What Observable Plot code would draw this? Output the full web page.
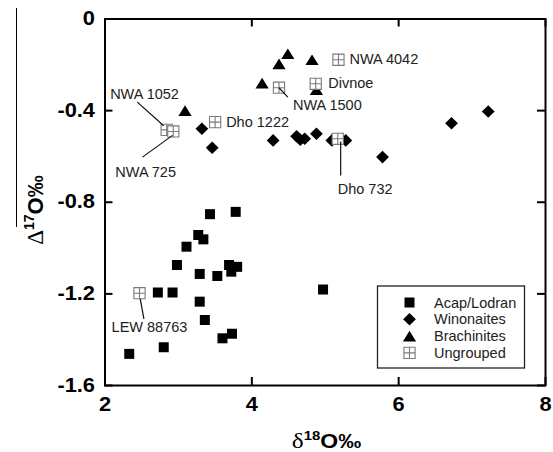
<!DOCTYPE html>
<html><head><meta charset="utf-8">
<script src="https://cdn.jsdelivr.net/npm/d3@7"></script>
<script src="https://cdn.jsdelivr.net/npm/@observablehq/plot@0.6"></script>
<style>
html,body{margin:0;padding:0;background:#fff;}
#chart{position:relative;width:553px;height:452px;}
</style></head><body><div id="chart"></div>
<script>
// ---------- data ----------
const xTicks = [2, 4, 6, 8];
const yTicks = [0, -0.4, -0.8, -1.2, -1.6];
const groups = ["Acap/Lodran", "Winonaites", "Brachinites", "Ungrouped"];

const acapX = [2.33, 2.80, 2.72, 2.92, 2.98, 3.11, 3.27, 3.34, 3.43, 3.78, 3.29, 3.29, 3.36, 3.53, 3.69, 3.80, 3.72, 3.60, 3.73, 4.97];
const acapY = [-1.462, -1.433, -1.194, -1.194, -1.074, -0.994, -0.943, -0.962, -0.852, -0.842, -1.113, -1.234, -1.314, -1.122, -1.074, -1.082, -1.103, -1.394, -1.374, -1.181];

const winoX = [3.32, 3.46, 4.29, 4.61, 4.66, 4.72, 4.88, 5.09, 5.28, 5.78, 6.72, 7.22];
const winoY = [-0.479, -0.562, -0.530, -0.512, -0.527, -0.523, -0.501, -0.530, -0.530, -0.603, -0.455, -0.404];

const brachX = [3.09, 4.14, 4.37, 4.49, 4.82, 4.88];
const brachY = [-0.400, -0.280, -0.196, -0.152, -0.178, -0.309];

const ungNames = ["NWA 4042", "Divnoe", "NWA 1500", "Dho 1222", "NWA 1052", "NWA 725", "Dho 732", "LEW 88763"];
const ungX = [5.18, 4.87, 4.37, 3.50, 2.84, 2.93, 5.17, 2.47];
const ungY = [-0.178, -0.283, -0.300, -0.450, -0.484, -0.491, -0.523, -1.197];
const labelX = [5.33, 5.04, 4.56, 3.65, 2.07, 2.14, 5.17, 2.09];
const labelY = [-0.178, -0.283, -0.378, -0.450, -0.327, -0.669, -0.744, -1.345];

const leaderNames = ["NWA 1052", "NWA 725", "NWA 1500", "Dho 732", "LEW 88763"];
const leaderX1 = [2.44, 2.51, 4.37, 5.21, 2.48];
const leaderY1 = [-0.363, -0.603, -0.300, -0.535, -1.222];
const leaderX2 = [2.80, 2.92, 4.49, 5.21, 2.53];
const leaderY2 = [-0.466, -0.508, -0.341, -0.683, -1.309];

// ---------- symbols ----------
const symSquare = {draw(c, size) { const h = Math.sqrt(size) * 0.5; c.rect(-h, -h, 2 * h, 2 * h); }};
const symDiamond = {draw(c, size) { const s = Math.sqrt(size), w = s * 0.64, h = s * 0.63;
  c.moveTo(0, -h); c.lineTo(w, 0); c.lineTo(0, h); c.lineTo(-w, 0); c.closePath(); }};
const symTriangle = {draw(c, size) { const s = Math.sqrt(size), w = s * 0.66, h = s * 0.53;
  c.moveTo(0, -h); c.lineTo(w, h); c.lineTo(-w, h); c.closePath(); }};
const symGrid = {draw(c, size) { const h = Math.sqrt(size) * 0.56;
  c.moveTo(-h, -h); c.lineTo(h, -h); c.lineTo(h, h); c.lineTo(-h, h); c.closePath();
  c.moveTo(0, -h); c.lineTo(0, h); c.moveTo(-h, 0); c.lineTo(h, 0); }};

const FONT = "'Liberation Sans', Arial, Helvetica, sans-serif";
const SERIF = "'Liberation Serif', 'Times New Roman', serif";
const W = 553, H = 452, mL = 104.5, mR = 8, mT = 18.5, mB = 67;
const fW = W - mL - mR, fH = H - mT - mB, TICK = 8, R = 10 / Math.sqrt(Math.PI);

const acap = acapX.map((x, i) => ({x, y: acapY[i]}));
const wino = winoX.map((x, i) => ({x, y: winoY[i]}));
const brach = brachX.map((x, i) => ({x, y: brachY[i]}));
const ung = ungNames.map((n, i) => ({name: n, x: ungX[i], y: ungY[i], lx: labelX[i], ly: labelY[i]}));
const leaders = leaderNames.map((n, i) => ({name: n, x1: leaderX1[i], y1: leaderY1[i], x2: leaderX2[i], y2: leaderY2[i]}));

const plot = Plot.plot({
  width: W, height: H,
  marginLeft: mL, marginRight: mR, marginTop: mT, marginBottom: mB,
  x: {domain: [2, 8]},
  y: {domain: [-1.6, 0]},
  style: {fontFamily: FONT, color: "#000", background: "#fff", overflow: "visible"},
  marks: [
    Plot.axisX({ticks: xTicks, tickSize: 0, tickPadding: 11.5, fontSize: 19.5, fontWeight: "bold", label: null, tickFormat: d => String(d)}),
    Plot.axisY({ticks: yTicks, tickSize: 0, tickPadding: 10, fontSize: 19.5, fontWeight: "bold", label: null, tickFormat: d => String(d)}),
    Plot.tickX(xTicks, {x: d => d, insetTop: fH - TICK, stroke: "#000", strokeWidth: 2}),
    Plot.tickX(xTicks, {x: d => d, insetBottom: fH - TICK, stroke: "#000", strokeWidth: 2}),
    Plot.tickY(yTicks, {y: d => d, insetRight: fW - TICK, stroke: "#000", strokeWidth: 2}),
    Plot.tickY(yTicks, {y: d => d, insetLeft: fW - TICK, stroke: "#000", strokeWidth: 2}),
    Plot.frame({stroke: "#000", strokeWidth: 2}),
    Plot.dot(acap, {x: "x", y: "y", symbol: symSquare, r: R, fill: "#000", stroke: "none"}),
    Plot.dot(wino, {x: "x", y: "y", symbol: symDiamond, r: R, fill: "#000", stroke: "none"}),
    Plot.dot(brach, {x: "x", y: "y", symbol: symTriangle, r: R, fill: "#000", stroke: "none"}),
    Plot.dot(ung, {x: "x", y: "y", symbol: symGrid, r: R, fill: "#fff", stroke: "#7a7a7a", strokeWidth: 1.1}),
    Plot.link(leaders, {x1: "x1", y1: "y1", x2: "x2", y2: "y2", stroke: "#111", strokeWidth: 1.2}),
    Plot.text(ung, {x: "lx", y: "ly", text: "name", textAnchor: "start", lineAnchor: "middle", fontSize: 14.5, fill: "#222"})
  ]
});

const svg = d3.select(plot);

// widen tick labels horizontally (reference glyphs are broad)
svg.selectAll('g[aria-label="x-axis tick label"] text, g[aria-label="y-axis tick label"] text').each(function() {
  const t = this.getAttribute("transform");
  if (t && t.includes("translate")) {
    this.setAttribute("transform", t + " scale(1.12,1)");
  } else {
    const x = +(this.getAttribute("x") || 0), y = +(this.getAttribute("y") || 0);
    this.removeAttribute("x"); this.removeAttribute("y");
    this.setAttribute("transform", `translate(${x},${y}) scale(1.12,1)`);
  }
});

// x axis title: δ18O‰
const xt = svg.append("text").attr("transform", "translate(326.5,448) scale(1.15,1)").attr("text-anchor", "middle")
  .attr("fill", "#000").attr("font-family", FONT);
xt.append("tspan").attr("font-family", SERIF).attr("font-size", 22).text("δ");
xt.append("tspan").attr("font-size", 13).attr("font-weight", "bold").attr("dy", -8.5).text("18");
xt.append("tspan").attr("font-size", 20).attr("font-weight", "bold").attr("dy", 8.5).text("O‰");

// y axis title: Δ17O‰
const yt = svg.append("text").attr("transform", "translate(42.5,210) rotate(-90)").attr("text-anchor", "middle")
  .attr("fill", "#000").attr("font-family", FONT);
yt.append("tspan").attr("font-family", SERIF).attr("font-size", 23).text("Δ");
yt.append("tspan").attr("font-size", 14).attr("font-weight", "bold").attr("dy", -9).text("17");
yt.append("tspan").attr("font-size", 22).attr("font-weight", "bold").attr("dy", 9).text("O‰");
svg.append("line").attr("x1", 16.5).attr("x2", 16.5).attr("y1", 8).attr("y2", 227).attr("stroke", "#000").attr("stroke-width", 1);

// legend (inside frame, lower right)
const legSyms = [symSquare, symDiamond, symTriangle, symGrid];
const leg = svg.append("g");
leg.append("rect").attr("x", 377.5).attr("y", 286).attr("width", 147).attr("height", 82)
  .attr("fill", "#fff").attr("stroke", "#222").attr("stroke-width", 1.3);
groups.forEach((name, i) => {
  const cy = 302.5 + i * 16.8;
  const p = d3.path(); legSyms[i].draw(p, Math.PI * R * R);
  const isUng = i === 3;
  leg.append("path").attr("d", p.toString()).attr("transform", `translate(409.5,${cy})`)
    .attr("fill", isUng ? "#fff" : "#000").attr("stroke", isUng ? "#7a7a7a" : "none").attr("stroke-width", 1.1);
  leg.append("text").attr("x", 434).attr("y", cy).attr("dy", "0.35em").attr("font-size", 14.5)
    .attr("text-anchor", "start").attr("font-family", FONT).attr("fill", "#222").text(name);
});

document.getElementById("chart").appendChild(plot);
</script></body></html>
